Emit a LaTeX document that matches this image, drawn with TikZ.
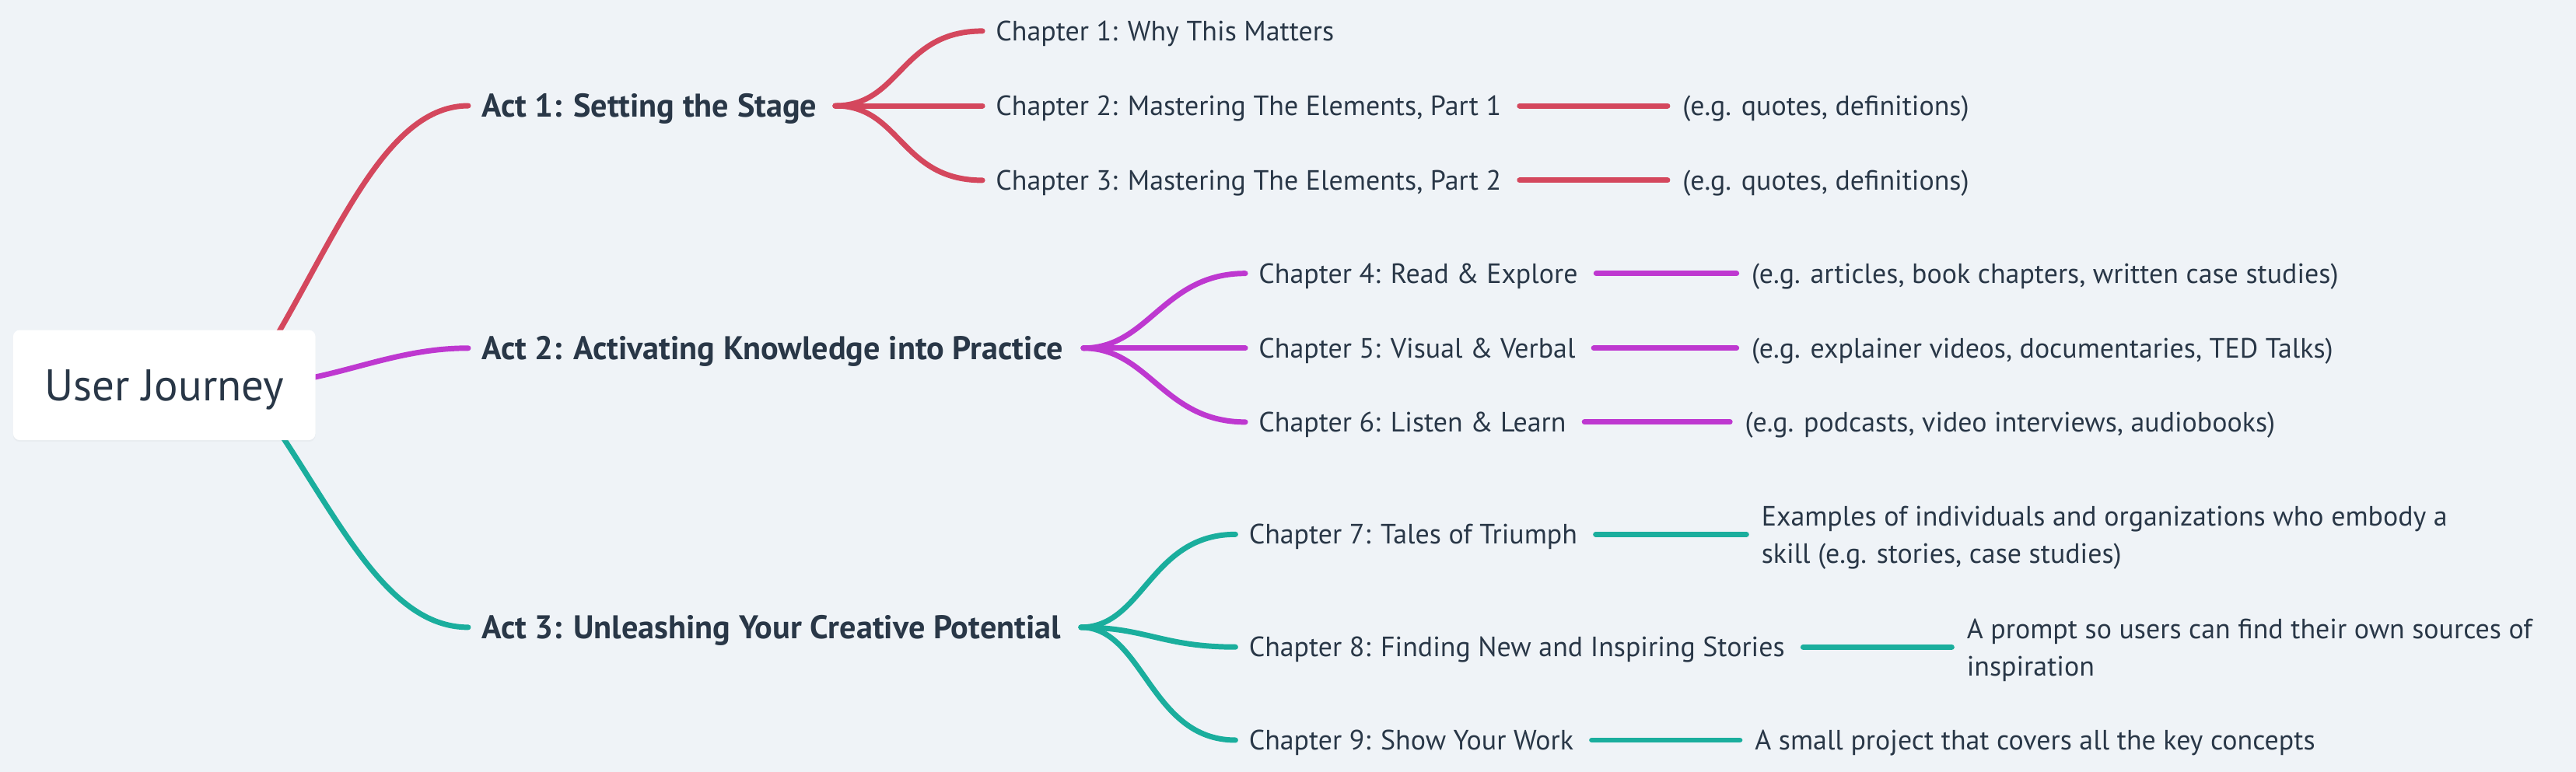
\documentclass[tikz,border=0pt]{standalone}
\usepackage{fontspec}
\setmainfont{PT Sans}
\usetikzlibrary{shadows}

\definecolor{pagebg}{HTML}{EFF3F7}
\definecolor{ink}{HTML}{293747}
\definecolor{actred}{HTML}{D4475D}
\definecolor{actpurple}{HTML}{BE38D0}
\definecolor{actteal}{HTML}{1AAE9D}

\pgfdeclarelayer{bg}
\pgfsetlayers{bg,main}

\tikzset{
  root/.style={fill=white, rounded corners=4pt, minimum width=184pt, minimum height=67pt,
    inner sep=0pt, text=ink, font=\fontsize{27}{32}\selectfont,
    text height=18.9pt, text depth=0pt,
    drop shadow={opacity=0.06, shadow xshift=0pt, shadow yshift=-1pt}},
  act/.style={anchor=west, inner sep=0pt, text=ink, font=\bfseries\fontsize{20}{24}\selectfont,
    text height=14pt, text depth=0pt},
  chap/.style={anchor=west, inner sep=0pt, text=ink, font=\fontsize{17}{23}\selectfont,
    text height=11.9pt, text depth=0pt},
  note/.style={chap},
  longnote/.style={anchor=west, inner sep=0pt, text=ink, align=left, yshift=-2pt,
    font=\fontsize{17}{23}\selectfont},
  branch/.style={line width=3.3pt, line cap=round},
}

\begin{document}
\begin{tikzpicture}[x=1pt, y=-1pt]
  \begin{pgfonlayer}{bg}
    \fill[pagebg] (0,0) rectangle (1568,470);
  \end{pgfonlayer}

  % Root
  \node[root] (root) at (100,234.5) {User Journey};

  % Acts
  \node[act] (act1) at (293,64.4) {Act 1: Setting the Stage};
  \node[act] (act2) at (293,212) {Act 2: Activating Knowledge into Practice};
  \node[act] (act3) at (293,382) {Act 3: Unleashing Your Creative Potential};

  % Act 1 chapters
  \node[chap] (ch1) at (606,18.9) {Chapter 1: Why This Matters};
  \node[chap] (ch2) at (606,64.4) {Chapter 2: Mastering The Elements, Part 1};
  \node[chap] (ch3) at (606,109.8) {Chapter 3: Mastering The Elements, Part 2};
  \node[note] (n2) at (1024,64.4) {(e.g. quotes, definitions)};
  \node[note] (n3) at (1024,109.8) {(e.g. quotes, definitions)};

  % Act 2 chapters
  \node[chap] (ch4) at (766,166.5) {Chapter 4: Read \& Explore};
  \node[chap] (ch5) at (766,212) {Chapter 5: Visual \& Verbal};
  \node[chap] (ch6) at (766,257) {Chapter 6: Listen \& Learn};
  \node[note] (n4) at (1066,166.5) {(e.g. articles, book chapters, written case studies)};
  \node[note] (n5) at (1066,212) {(e.g. explainer videos, documentaries, TED Talks)};
  \node[note] (n6) at (1062,257) {(e.g. podcasts, video interviews, audiobooks)};

  % Act 3 chapters
  \node[chap] (ch7) at (760,325.4) {Chapter 7: Tales of Triumph};
  \node[chap] (ch8) at (760,394) {Chapter 8: Finding New and Inspiring Stories};
  \node[chap] (ch9) at (760,450.7) {Chapter 9: Show Your Work};
  \node[longnote] (n7) at (1072,325.4) {Examples of individuals and organizations who embody a\\skill (e.g. stories, case studies)};
  \node[longnote] (n8) at (1197,394) {A prompt so users can find their own sources of\\inspiration};
  \node[note] (n9) at (1068,450.7) {A small project that covers all the key concepts};

  \begin{pgfonlayer}{bg}
    % Root to acts
    \draw[branch, actred] ([xshift=50pt]root.center) .. controls +(50,-76) and +(-55,0) .. ([xshift=-8pt]act1.west);
    \draw[branch, actpurple] ([xshift=50pt]root.center) .. controls +(50,0) and +(-50,0) .. ([xshift=-8pt]act2.west);
    \draw[branch, actteal] ([xshift=50pt]root.center) .. controls +(50,66) and +(-55,0) .. ([xshift=-8pt]act3.west);
  \end{pgfonlayer}

  % Act 1 fan
  \draw[branch, actred] ([xshift=11pt]act1.east) .. controls +(40,0) and +(-50,0) .. ([xshift=-8pt]ch1.west);
  \draw[branch, actred] ([xshift=11pt]act1.east) -- ([xshift=-8pt]ch2.west);
  \draw[branch, actred] ([xshift=11pt]act1.east) .. controls +(40,0) and +(-50,0) .. ([xshift=-8pt]ch3.west);
  \draw[branch, actred] ([xshift=11pt]ch2.east) -- ([xshift=-9pt]n2.west);
  \draw[branch, actred] ([xshift=11pt]ch3.east) -- ([xshift=-9pt]n3.west);

  % Act 2 fan
  \draw[branch, actpurple] ([xshift=12pt]act2.east) .. controls +(40,0) and +(-50,0) .. ([xshift=-8pt]ch4.west);
  \draw[branch, actpurple] ([xshift=12pt]act2.east) -- ([xshift=-8pt]ch5.west);
  \draw[branch, actpurple] ([xshift=12pt]act2.east) .. controls +(40,0) and +(-50,0) .. ([xshift=-8pt]ch6.west);
  \draw[branch, actpurple] ([xshift=11pt]ch4.east) -- ([xshift=-9pt]n4.west);
  \draw[branch, actpurple] ([xshift=11pt]ch5.east) -- ([xshift=-9pt]n5.west);
  \draw[branch, actpurple] ([xshift=11pt]ch6.east) -- ([xshift=-9pt]n6.west);

  % Act 3 fan
  \draw[branch, actteal] ([xshift=12pt]act3.east) .. controls +(38,0) and +(-52,0) .. ([xshift=-8pt]ch7.west);
  \draw[branch, actteal] ([xshift=12pt]act3.east) .. controls +(40,0) and +(-45,0) .. ([xshift=-8pt]ch8.west);
  \draw[branch, actteal] ([xshift=12pt]act3.east) .. controls +(38,0) and +(-52,0) .. ([xshift=-8pt]ch9.west);
  \draw[branch, actteal] ([xshift=11pt]ch7.east) -- ([xshift=-9pt]n7.west |- ch7.east);
  \draw[branch, actteal] ([xshift=11pt]ch8.east) -- ([xshift=-9pt]n8.west |- ch8.east);
  \draw[branch, actteal] ([xshift=11pt]ch9.east) -- ([xshift=-9pt]n9.west);
\end{tikzpicture}
\end{document}
